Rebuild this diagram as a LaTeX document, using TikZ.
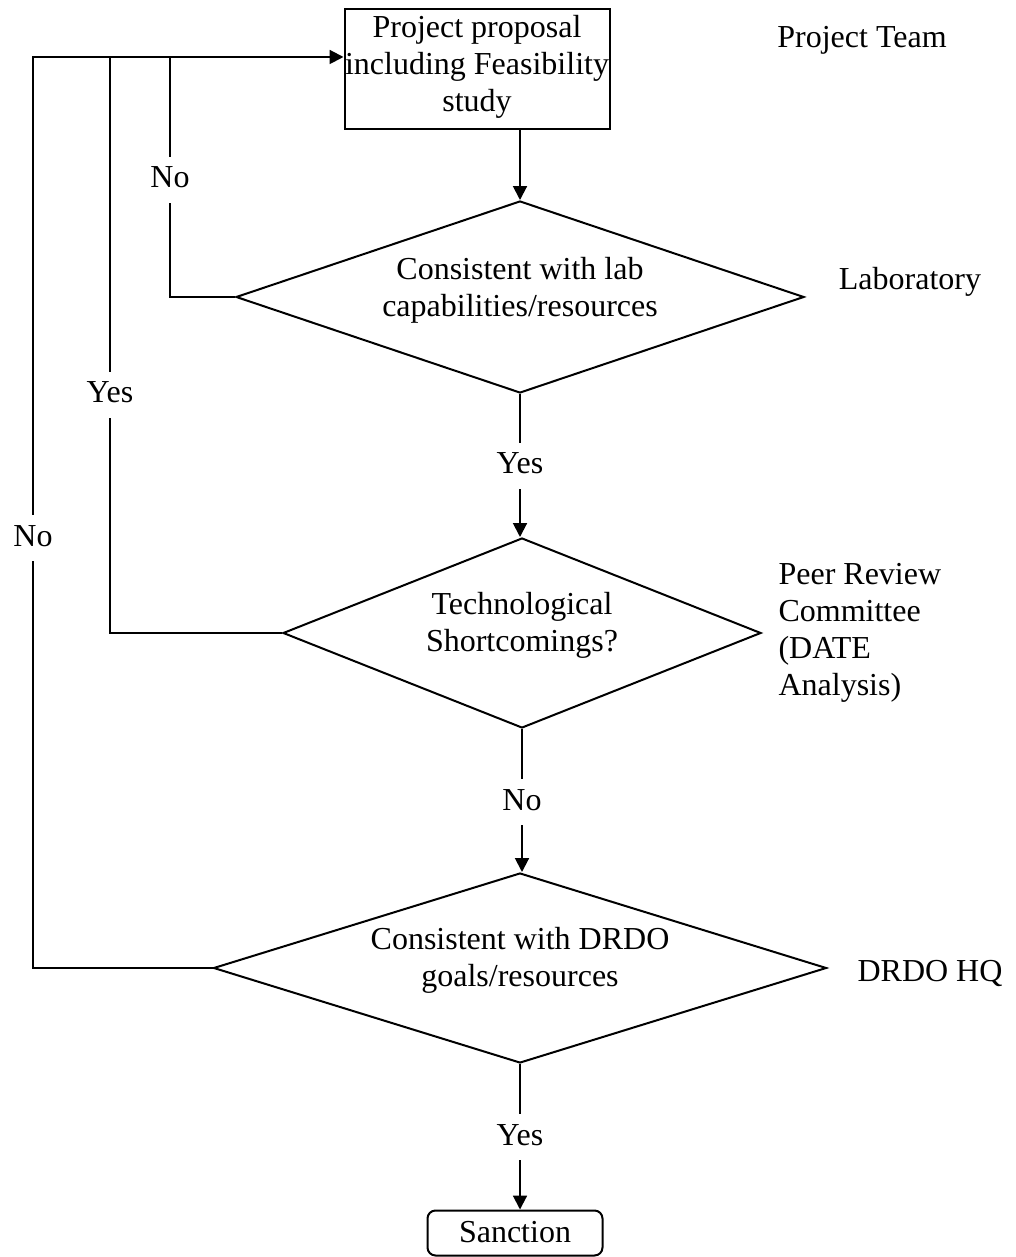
\documentclass[tikz,border=0pt]{standalone}
\usepackage{fontspec}
\setmainfont{Liberation Serif}
\usetikzlibrary{shapes.geometric,arrows.meta}
\begin{document}
\begin{tikzpicture}[x=0.375pt,y=-0.375pt,
  every node/.style={font=\fontsize{12}{13.9}\selectfont},
  line/.style={line width=0.75pt},
  arr/.style={line, -{Triangle[length=5.2pt,width=5.2pt]}},
  procbox/.style={draw, line width=0.75pt, minimum width=265*0.375pt,
    minimum height=120*0.375pt, inner sep=0pt},
  endbox/.style={draw, line width=0.75pt, rounded corners=3pt,
    minimum width=175*0.375pt, minimum height=45*0.375pt, inner sep=0pt},
  decision/.style={draw, diamond, line width=0.75pt, inner sep=0pt},
  txt/.style={align=center, inner sep=0pt},
  side/.style={align=left, inner sep=0pt},
  lab/.style={fill=white, inner xsep=1pt, inner ysep=3pt,
    text height=8.5pt, text depth=2.5pt}]
\useasboundingbox (0,0) rectangle (1015,1257);

% process box and decisions
\node[procbox] (box) at (477,69) {};
\node[txt] (boxtxt) at (477,67) {Project proposal\\including Feasibility\\study};

\node[decision, minimum width=568*0.375pt, minimum height=192*0.375pt] (d1) at (520,297) {};
\node[txt] (d1txt) at (520,290) {Consistent with lab\\capabilities/resources};

\node[decision, minimum width=478*0.375pt, minimum height=190*0.375pt] (d2) at (522,633) {};
\node[txt] (d2txt) at (522,625) {Technological\\Shortcomings?};

\node[decision, minimum width=613*0.375pt, minimum height=190*0.375pt] (d3) at (520,968) {};
\node[txt] (d3txt) at (520,960) {Consistent with DRDO\\goals/resources};

\node[endbox] (sanc) at (515,1233) {};
\node[txt] (sanctxt) at (515,1232) {Sanction};

% responsible bodies
\node[txt] (team) at (862,40) {Project Team};
\node[txt] (lab1) at (910,282) {Laboratory};
\node[side, anchor=west] (peer) at (778,633) {Peer Review\\Committee\\(DATE\\Analysis)};
\node[txt] (hq) at (930,973) {DRDO HQ};

% main flow
\coordinate (topy) at (0,57);
\draw[arr] (d1.north |- box.south) -- (d1.north);
\draw[arr] (d1.south) -- (d2.north -| d1.south);
\draw[arr] (d2.south) -- (d3.north -| d2.south);
\draw[arr] (d3.south) -- (sanc.north -| d3.south);

% feedback loops
\draw[line] (d1.west) -| (170,57);
\draw[line] (d2.west) -| (110,57);
\draw[arr] (d3.west) -| (33,57) -- (box.west |- topy);

% branch labels
\node[lab] (no1) at (170,180) {No};
\node[lab] (yes1) at (110,395) {Yes};
\node[lab] (no2) at (33,538) {No};
\node[lab] (yes2) at (520,466) {Yes};
\node[lab] (no3) at (522,802) {No};
\node[lab] (yes3) at (520,1137) {Yes};
\end{tikzpicture}
\end{document}
